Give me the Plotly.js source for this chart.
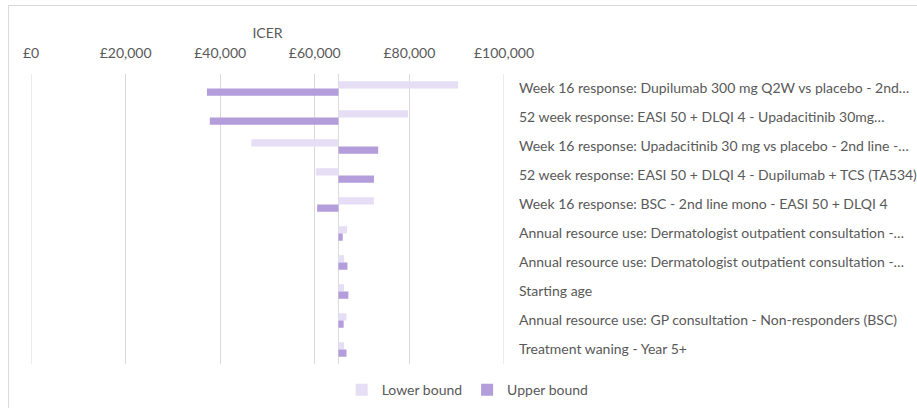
<!DOCTYPE html>
<html>
<head>
<meta charset="utf-8">
<script src="https://cdn.plot.ly/plotly-3.0.1.min.js"></script>
<style>
  body { margin: 0; background: #fff; }
  #frame { position: absolute; left: 8px; top: 5px; width: 930px; height: 420px; border: 1px solid #d9d9d9; }
  #chart { position: absolute; left: 0; top: 0; width: 917px; height: 408px; }
</style>
</head>
<body>
<div id="frame"></div>
<div id="chart"></div>
<script>
// base case ICER the bars are drawn from
var baseIcer = 65000;

var parameters = [
  'Week 16 response: Dupilumab 300 mg Q2W vs placebo - 2nd\u2026',
  '52 week response: EASI 50 + DLQI 4 - Upadacitinib 30mg\u2026',
  'Week 16 response: Upadacitinib 30 mg vs placebo - 2nd line -\u2026',
  '52 week response: EASI 50 + DLQI 4 - Dupilumab + TCS (TA534)',
  'Week 16 response: BSC - 2nd line mono - EASI 50 + DLQI 4',
  'Annual resource use: Dermatologist outpatient consultation -\u2026',
  'Annual resource use: Dermatologist outpatient consultation -\u2026',
  'Starting age',
  'Annual resource use: GP consultation - Non-responders (BSC)',
  'Treatment waning - Year 5+'
];

var lowerBound = [90300, 79700, 46600, 60200, 72500, 66800, 66200, 66200, 66700, 66200];
var upperBound = [37200, 37800, 73400, 72500, 60500, 65900, 66900, 67100, 66100, 66700];

var xTickVals = [0, 20000, 40000, 60000, 80000, 100000];
var xTickText = ['£0', '£20,000', '£40,000', '£60,000', '£80,000', '£100,000'];

var rows = parameters.map(function (p, i) { return i; });
function offsets(arr) { return arr.map(function (v) { return v - baseIcer; }); }

var grey = '#595959';
var font = 'Lato, "Open Sans", sans-serif';

var data = [
  {
    type: 'bar', orientation: 'h', name: 'Lower bound',
    y: rows, x: offsets(lowerBound), base: baseIcer,
    marker: {color: '#e5def4'},
    hoverinfo: 'skip'
  },
  {
    type: 'bar', orientation: 'h', name: 'Upper bound',
    y: rows, x: offsets(upperBound), base: baseIcer,
    marker: {color: '#b39ddb'},
    hoverinfo: 'skip'
  }
];

// vertical lines: edges of the grid and the axis crossing at the base ICER
function vline(x) {
  return {
    type: 'line', xref: 'x', yref: 'paper',
    x0: x, x1: x, y0: 0, y1: 1,
    line: {color: '#d9d9d9', width: 1}, layer: 'below'
  };
}

var layout = {
  width: 917, height: 408,
  margin: {l: 31, r: 413, t: 74, b: 44},
  paper_bgcolor: 'rgba(0,0,0,0)',
  plot_bgcolor: 'rgba(0,0,0,0)',
  font: {family: font, color: grey, size: 14},
  barmode: 'group',
  bargap: 0.5,
  bargroupgap: 0,
  showlegend: true,
  legend: {
    orientation: 'h', xref: 'container', yref: 'container',
    x: 0.51, xanchor: 'center', y: 0.044, yanchor: 'middle',
    font: {size: 14, color: grey}, traceorder: 'normal'
  },
  xaxis: {
    side: 'top',
    range: [0, 100000],
    tickvals: xTickVals, ticktext: xTickText,
    showgrid: true, gridcolor: '#d9d9d9', gridwidth: 1,
    zeroline: false, showline: false, ticks: '',
    ticklabelstandoff: 12,
    tickfont: {size: 14, color: grey},
    title: {text: 'ICER', font: {size: 14, color: grey}, standoff: 2}
  },
  yaxis: {
    side: 'right',
    range: [9.5, -0.5],
    tickvals: rows, ticktext: parameters,
    showgrid: false, zeroline: false, showline: false, ticks: '',
    ticklabelstandoff: 14,
    tickfont: {size: 14, color: grey}
  },
  shapes: [vline(0), vline(100000), vline(baseIcer)]
};

Plotly.newPlot('chart', data, layout, {displayModeBar: false, staticPlot: true});
</script>
</body>
</html>
